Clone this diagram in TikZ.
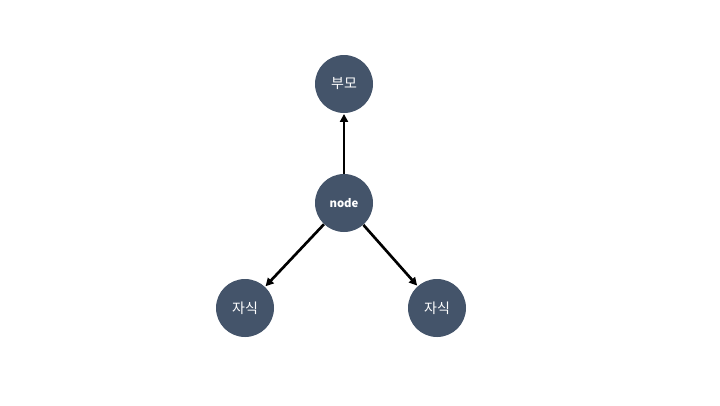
\documentclass[tikz,border=0pt]{standalone}
\usepackage{fontspec}
\setmainfont{Noto Sans CJK KR}
\usetikzlibrary{arrows.meta}
\definecolor{nodefill}{HTML}{44546A}
\tikzset{
  treenode/.style={circle, fill=nodefill, minimum size=43.5pt, inner sep=0pt, text=white, font=\fontsize{10.5}{12}\selectfont},
  link/.style={line width=2pt, -{Triangle[length=6pt,width=6pt]}, shorten >=0.5pt}
}
\begin{document}
\begin{tikzpicture}[x=0.75pt, y=-0.75pt]
  \useasboundingbox (0,0) rectangle (720,405);
  \node[treenode] (parent) at (344,84) {부모};
  \node[treenode, font=\bfseries\fontsize{8.5}{10}\selectfont] (cur) at (344,203) {node};
  \node[treenode] (left) at (245,308) {자식};
  \node[treenode] (right) at (437,308) {자식};
  \draw[link] (cur) -- (parent);
  \draw[link] (cur) -- (left);
  \draw[link] (cur) -- (right);
\end{tikzpicture}
\end{document}
